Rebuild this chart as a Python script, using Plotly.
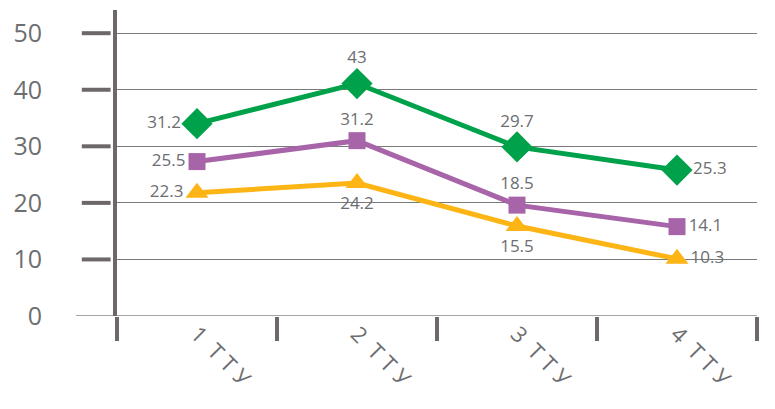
import plotly.graph_objects as go

categories = ["1  Т Т У", "2  Т Т У", "3  Т Т У", "4  Т Т У"]
# positions of the markers
green_vals = [34.0, 41.1, 29.9, 25.8]
purple_vals = [27.3, 31.0, 19.6, 15.8]
orange_vals = [21.8, 23.5, 15.9, 10.1]
# value labels printed next to the markers
green_labels = ["31.2", "43", "29.7", "25.3"]
purple_labels = ["25.5", "31.2", "18.5", "14.1"]
orange_labels = ["22.3", "24.2", "15.5", "10.3"]
y_ticks = [0, 10, 20, 30, 40, 50]

TXT = "#6d6e71"
AX = "#6d6768"
FONT = "Open Sans"

fig = go.Figure()

series = [
    (green_vals, green_labels, "#00a14b", "diamond", 24,
     ["middle left", "top center", "top center", "middle right"]),
    (purple_vals, purple_labels, "#a864a8", "square", 17,
     ["middle left", "top center", "top center", "middle right"]),
    (orange_vals, orange_labels, "#fdb515", "triangle-up", 20,
     ["middle left", "bottom center", "bottom center", "middle right"]),
]
for vals, labels, col, sym, size, pos in series:
    fig.add_trace(go.Scatter(
        x=categories, y=vals, mode="lines+markers+text",
        line=dict(color=col, width=5),
        marker=dict(symbol=sym, size=size, color=col),
        text=labels, textposition=pos,
        textfont=dict(family=FONT, size=17, color=TXT),
        cliponaxis=False, showlegend=False,
    ))

# left tick dashes (except 0) and extended zero line
for v in y_ticks:
    if v == 0:
        fig.add_shape(type="line", xref="paper", yref="y", x0=-0.064, x1=1, y0=0, y1=0,
                      line=dict(color="#888", width=1.5), layer="below")
    else:
        fig.add_shape(type="line", xref="paper", yref="y", x0=-0.055, x1=-0.01, y0=v, y1=v,
                      line=dict(color=AX, width=4))

fig.update_layout(
    width=767, height=401,
    margin=dict(l=109, r=18, t=2, b=93, autoexpand=False),
    paper_bgcolor="white", plot_bgcolor="white",
    font=dict(family=FONT, color=TXT),
    xaxis=dict(
        type="category", range=[-0.5, 3.5], tickson="boundaries",
        ticks="outside", ticklen=24, tickwidth=4, tickcolor=AX,
        showline=False, showgrid=False, zeroline=False, automargin=False,
        tickangle=45, tickfont=dict(family=FONT, size=22, color=TXT),
    ),
    yaxis=dict(
        range=[0, 54.1], tickvals=y_ticks, ticktext=[str(v) for v in y_ticks],
        showgrid=True, gridcolor="#7a7a7a", gridwidth=1,
        zeroline=False, showline=True, linecolor=AX, linewidth=4,
        ticks="", ticklabelstandoff=66, automargin=False,
        tickfont=dict(family=FONT, size=25, color=TXT),
    ),
)

fig.write_html("out.html")
